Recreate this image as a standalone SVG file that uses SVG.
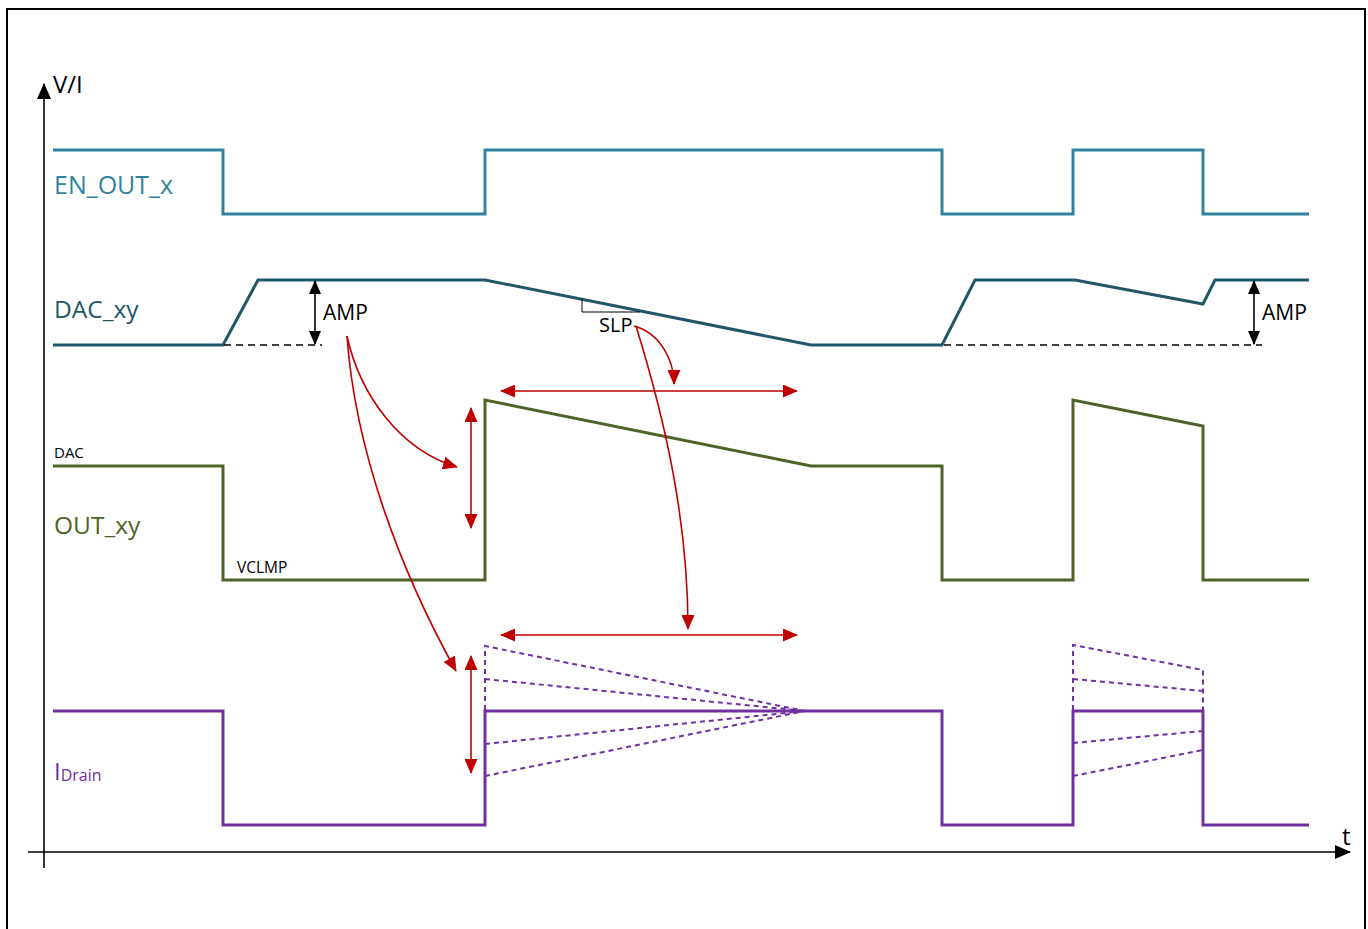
<svg xmlns="http://www.w3.org/2000/svg" width="1368" height="929" viewBox="0 0 1368 929">
<defs>
<marker id="ar" markerUnits="userSpaceOnUse" markerWidth="15" markerHeight="13" refX="14" refY="6.5" orient="auto-start-reverse"><path d="M0,0 L15,6.5 L0,13 Z" fill="#C00000"/></marker>
<marker id="ab" markerUnits="userSpaceOnUse" markerWidth="14" markerHeight="12" refX="13" refY="6" orient="auto-start-reverse"><path d="M0,0 L14,6 L0,12 Z" fill="#000"/></marker>
<marker id="ax" markerUnits="userSpaceOnUse" markerWidth="16" markerHeight="14" refX="15" refY="7" orient="auto-start-reverse"><path d="M0,0 L16,7 L0,14 Z" fill="#000"/></marker>
</defs>
<style>
.sig{fill:none;stroke-width:3;stroke-linejoin:miter}
.en{stroke:#31849B}.dac{stroke:#215868}.out{stroke:#4F6228}.id{stroke:#7030A0}
.dash{fill:none;stroke:#7030A0;stroke-width:2;stroke-dasharray:5,4}
.red{fill:none;stroke:#C00000;stroke-width:1.6}
.base{stroke:#000;stroke-width:1.3;stroke-dasharray:7,5}
.t{font-family:"Open Sans","Liberation Sans",sans-serif}
</style>
<rect x="7" y="9" width="1358" height="940" fill="#fff" stroke="#000" stroke-width="2"/>
<g id="axes">
<line x1="44" y1="868" x2="44" y2="84" stroke="#000" stroke-width="1.6" marker-end="url(#ax)"/>
<line x1="28" y1="852" x2="1350" y2="852" stroke="#000" stroke-width="1.6" marker-end="url(#ax)"/>
<text class="t" x="53" y="93" font-size="24">V/I</text>
<text class="t" x="1342" y="845" font-size="24">t</text>
</g>
<g id="en_out">
<path class="sig en" d="M53,150 H223 V214 H485 V150 H942 V214 H1073 V150 H1203 V214 H1309"/>
<text class="t" x="54" y="194" font-size="25" fill="#31849B">EN_OUT_x</text>
</g>
<g id="dac_xy">
<path class="sig dac" d="M53,345 H223 L258,280 H485 L811,345 H942 L975,280 H1075 L1203,304 L1215,280 H1309"/>
<text class="t" x="54" y="318" font-size="24.5" fill="#215868">DAC_xy</text>
<line class="base" x1="224" y1="345" x2="322" y2="345"/>
<line class="base" x1="944" y1="345" x2="1262" y2="345"/>
<line x1="315" y1="281" x2="315" y2="344" stroke="#000" stroke-width="1.6" marker-start="url(#ab)" marker-end="url(#ab)"/>
<text class="t" x="323" y="320" font-size="21">AMP</text>
<line x1="1254" y1="281" x2="1254" y2="344" stroke="#000" stroke-width="1.6" marker-start="url(#ab)" marker-end="url(#ab)"/>
<text class="t" x="1262" y="320" font-size="21">AMP</text>
<path d="M582,299 V312 H640" fill="none" stroke="#000" stroke-width="1"/>
<text class="t" x="599" y="332" font-size="20">SLP</text>
</g>
<g id="out_xy">
<path class="sig out" d="M53,466 H223 V580 H485 V400 L811,466 H942 V580 H1073 V400 L1203,426 V580 H1309"/>
<text class="t" x="54" y="458" font-size="15">DAC</text>
<text class="t" x="54" y="534" font-size="24.5" fill="#4F6228">OUT_xy</text>
<text class="t" x="237" y="573" font-size="15.5">VCLMP</text>
</g>
<g id="idrain">
<path class="sig id" d="M53,711 H223 V825 H485 V711 H942 V825 H1073 V711 H1203 V825 H1309"/>
<path class="dash" d="M485,710 V646 L805,711 M485,679 L805,711 M485,744 L805,711 M485,776 L805,711"/>
<path class="dash" d="M1073,710 V645 L1203,670 V710 M1073,679 L1203,691 M1073,743 L1203,731 M1073,776 L1203,750"/>
<text class="t" x="54" y="780" font-size="24" fill="#7030A0">I<tspan font-size="16" dy="1">Drain</tspan></text>
</g>
<g id="connectors">
<line class="red" x1="501" y1="391" x2="797" y2="391" marker-start="url(#ar)" marker-end="url(#ar)"/>
<line class="red" x1="471" y1="408" x2="471" y2="528" marker-start="url(#ar)" marker-end="url(#ar)"/>
<line class="red" x1="501" y1="635" x2="797" y2="635" marker-start="url(#ar)" marker-end="url(#ar)"/>
<line class="red" x1="471" y1="656" x2="471" y2="773" marker-start="url(#ar)" marker-end="url(#ar)"/>
<path class="red" d="M347,336 C360,395 400,450 457,467" marker-end="url(#ar)"/>
<path class="red" d="M347,336 C355,450 400,570 456,671" marker-end="url(#ar)"/>
<path class="red" d="M634,326 C660,333 674,360 674,384" marker-end="url(#ar)"/>
<path class="red" d="M636,326 C665,420 688,520 688,629" marker-end="url(#ar)"/>
</g>
</svg>
